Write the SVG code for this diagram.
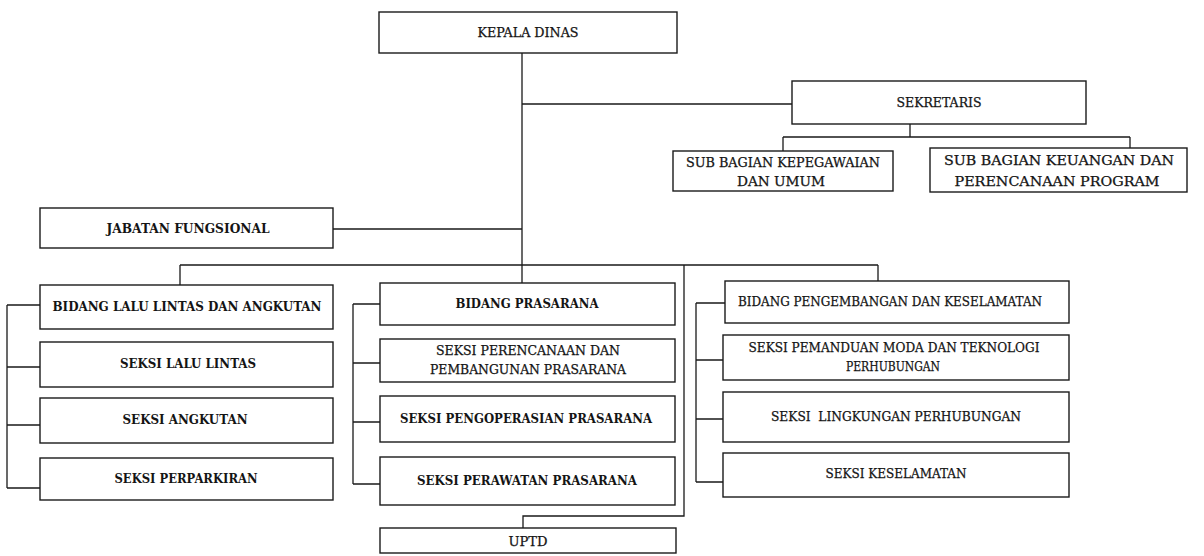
<svg xmlns="http://www.w3.org/2000/svg" width="1204" height="556" viewBox="0 0 1204 556">
<style>
.box{fill:#fff;stroke:#1a1a1a;stroke-width:1.4}
.ln{fill:none;stroke:#1a1a1a;stroke-width:1.3}
text{font-family:"DejaVu Serif","Liberation Serif",serif;font-size:12px;fill:#141414;stroke:#141414;stroke-width:0.25;text-anchor:middle}
.b{font-weight:bold;stroke-width:0}
</style>
<rect width="1204" height="556" fill="#fff"/>
<g id="connectors">
<path class="ln" d="M522,53 V265 M522,104 H792 M333,229 H522"/>
<path class="ln" d="M910,124 V137 M783,137 H1130 M783,137 V151 M1130,137 V148"/>
<path class="ln" d="M180,265 H878 M180,265 V285 M522,265 V283 M878,265 V281"/>
<path class="ln" d="M684,265 V516 H523 V528"/>
<path class="ln" d="M7,305 V488 M7,305 H40 M7,367 H40 M7,425 H40 M7,488 H40"/>
<path class="ln" d="M353,304 V484 M353,304 H380 M353,363 H380 M353,422 H380 M353,484 H380"/>
<path class="ln" d="M696,303 V482 M696,303 H725 M696,360 H723 M696,419 H723 M696,482 H723"/>
</g>
<g id="kepala-dinas"><rect class="box" x="379" y="12" width="298" height="41"/><text x="528" y="37" textLength="101" lengthAdjust="spacingAndGlyphs">KEPALA DINAS</text></g>
<g id="sekretaris"><rect class="box" x="792" y="81" width="294" height="43"/><text x="939" y="107" textLength="85" lengthAdjust="spacingAndGlyphs">SEKRETARIS</text></g>
<g id="sub-kepegawaian"><rect class="box" x="673" y="151" width="220" height="40"/><text x="783" y="167" textLength="194" lengthAdjust="spacingAndGlyphs">SUB BAGIAN KEPEGAWAIAN</text><text x="781" y="186" textLength="88" lengthAdjust="spacingAndGlyphs">DAN UMUM</text></g>
<g id="sub-keuangan"><rect class="box" x="930" y="148" width="257" height="44"/><text x="1059" y="165" textLength="230" lengthAdjust="spacingAndGlyphs">SUB BAGIAN KEUANGAN DAN</text><text x="1057" y="186" textLength="205" lengthAdjust="spacingAndGlyphs">PERENCANAAN PROGRAM</text></g>
<g id="jabatan-fungsional"><rect class="box" x="40" y="208" width="293" height="40"/><text class="b" x="188" y="233" textLength="163" lengthAdjust="spacingAndGlyphs">JABATAN FUNGSIONAL</text></g>
<g id="bidang-lla"><rect class="box" x="40" y="285" width="293" height="44"/><text class="b" x="187" y="311" textLength="269" lengthAdjust="spacingAndGlyphs">BIDANG LALU LINTAS DAN ANGKUTAN</text></g>
<g id="seksi-lalu-lintas"><rect class="box" x="40" y="342" width="293" height="45"/><text class="b" x="188" y="368" textLength="136" lengthAdjust="spacingAndGlyphs">SEKSI LALU LINTAS</text></g>
<g id="seksi-angkutan"><rect class="box" x="40" y="398" width="293" height="45"/><text class="b" x="185" y="424" textLength="125" lengthAdjust="spacingAndGlyphs">SEKSI ANGKUTAN</text></g>
<g id="seksi-perparkiran"><rect class="box" x="40" y="458" width="293" height="42"/><text class="b" x="186" y="483" textLength="143" lengthAdjust="spacingAndGlyphs">SEKSI PERPARKIRAN</text></g>
<g id="bidang-prasarana"><rect class="box" x="380" y="283" width="295" height="42"/><text class="b" x="527" y="308" textLength="143" lengthAdjust="spacingAndGlyphs">BIDANG PRASARANA</text></g>
<g id="seksi-perencanaan"><rect class="box" x="380" y="339" width="295" height="43"/><text x="528" y="355" textLength="184" lengthAdjust="spacingAndGlyphs">SEKSI PERENCANAAN DAN</text><text x="528" y="374" textLength="196" lengthAdjust="spacingAndGlyphs">PEMBANGUNAN PRASARANA</text></g>
<g id="seksi-pengoperasian"><rect class="box" x="380" y="396" width="295" height="46"/><text class="b" x="526" y="423" textLength="252" lengthAdjust="spacingAndGlyphs">SEKSI PENGOPERASIAN PRASARANA</text></g>
<g id="seksi-perawatan"><rect class="box" x="380" y="457" width="295" height="48"/><text class="b" x="527" y="485" textLength="220" lengthAdjust="spacingAndGlyphs">SEKSI PERAWATAN PRASARANA</text></g>
<g id="uptd"><rect class="box" x="380" y="528" width="296" height="25"/><text x="528" y="546" textLength="39" lengthAdjust="spacingAndGlyphs">UPTD</text></g>
<g id="bidang-pengembangan"><rect class="box" x="725" y="281" width="344" height="42"/><text x="890" y="306" textLength="304" lengthAdjust="spacingAndGlyphs">BIDANG PENGEMBANGAN DAN KESELAMATAN</text></g>
<g id="seksi-pemanduan"><rect class="box" x="723" y="335" width="346" height="45"/><text x="894" y="352" textLength="291" lengthAdjust="spacingAndGlyphs">SEKSI PEMANDUAN MODA DAN TEKNOLOGI</text><text x="893" y="371" textLength="94" lengthAdjust="spacingAndGlyphs">PERHUBUNGAN</text></g>
<g id="seksi-lingkungan"><rect class="box" x="723" y="392" width="346" height="50"/><text x="896" y="421" textLength="250" lengthAdjust="spacingAndGlyphs" xml:space="preserve">SEKSI  LINGKUNGAN PERHUBUNGAN</text></g>
<g id="seksi-keselamatan"><rect class="box" x="723" y="453" width="346" height="44"/><text x="896" y="478" textLength="141" lengthAdjust="spacingAndGlyphs">SEKSI KESELAMATAN</text></g>
</svg>
